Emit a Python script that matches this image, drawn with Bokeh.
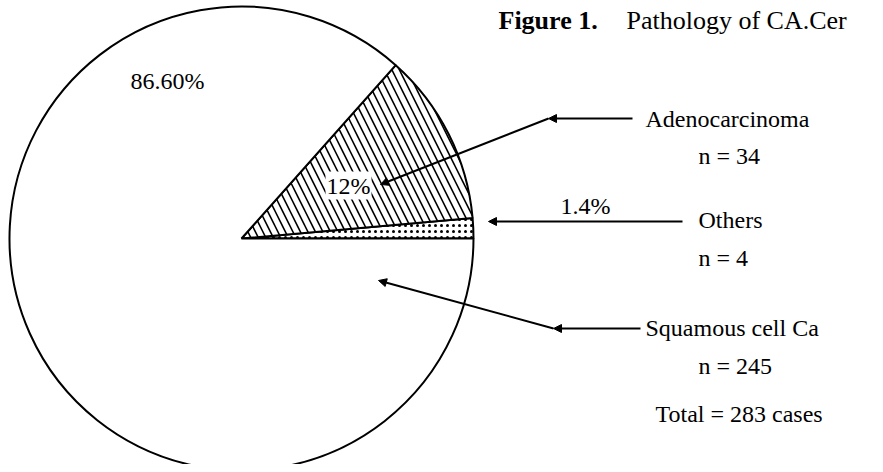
import math
from bokeh.plotting import figure
from bokeh.models import ColumnDataSource, Range1d, Arrow, NormalHead
from bokeh.core.properties import value
from bokeh.embed import file_html
from bokeh.resources import INLINE

# ---- data ----
categories = ["Others", "Adenocarcinoma", "Squamous cell Ca"]
counts = [4, 34, 245]
pct_labels = ["1.4%", "12%", "86.60%"]
total = sum(counts)
title_bold = "Figure 1."
title_rest = "Pathology of CA.Cer"

# ---- layout (reference pixel coords, y down) ----
W, H = 875, 464
def Y(y):
    return 464 - y

cx, cy, R = 241, 238, 232

p = figure(width=W, height=H, output_backend="svg", toolbar_location=None,
           x_range=Range1d(0, 875), y_range=Range1d(0, 464),
           min_border=0, outline_line_color=None)
p.axis.visible = False
p.xgrid.visible = False
p.ygrid.visible = False
p.background_fill_color = "white"
p.border_fill_color = "white"

# wedges from counts
angles = [c / total * 2 * math.pi for c in counts]
starts, ends = [], []
acc = 0.0
for a in angles:
    starts.append(acc)
    acc += a
    ends.append(acc)

styles = {
    "Others": dict(hatch_pattern=".", hatch_scale=6, hatch_weight=1.4),
    "Adenocarcinoma": dict(hatch_pattern="\\", hatch_scale=15, hatch_weight=1.6),
    "Squamous cell Ca": dict(),
}
for c, s, e in zip(categories, starts, ends):
    src = ColumnDataSource(dict(x=[cx], y=[Y(cy)], start=[s], end=[e], cat=[c]))
    p.wedge(x="x", y="y", radius=R, start_angle="start", end_angle="end", source=src,
            fill_color="white", line_color="black", line_width=2,
            hatch_color="black", **styles[c])

FONT = value("Liberation Serif")
FS = value("24px")

# percentage labels
pct_pos = {"1.4%": (585, 205), "12%": (348, 185), "86.60%": (167, 80)}
p.text(x=[pct_pos[l][0] for l in pct_labels], y=[Y(pct_pos[l][1]) for l in pct_labels],
       text=pct_labels, text_font=FONT, text_font_size=FS,
       text_align="center", text_baseline="middle", text_color="black",
       background_fill_color="white", padding=1)

# category labels
cat_pos = {"Adenocarcinoma": (645, 118), "Others": (698, 219), "Squamous cell Ca": (645, 327)}
n_pos = {"Adenocarcinoma": (698, 155), "Others": (698, 257), "Squamous cell Ca": (698, 365)}
tx, ty, tt = [], [], []
for c, n in zip(categories, counts):
    tx.append(cat_pos[c][0]); ty.append(Y(cat_pos[c][1])); tt.append(c)
    tx.append(n_pos[c][0]); ty.append(Y(n_pos[c][1])); tt.append(f"n = {n}")
tx.append(655); ty.append(Y(413)); tt.append(f"Total = {total} cases")
p.text(x=tx, y=ty, text=tt, text_font=FONT, text_font_size=FS,
       text_align="left", text_baseline="middle", text_color="black")

# title
TFS = value("26px")
p.text(x=[498], y=[Y(20)], text=[title_bold], text_font=FONT, text_font_size=TFS,
       text_font_style="bold", text_align="left", text_baseline="middle")
p.text(x=[626], y=[Y(20)], text=[title_rest], text_font=FONT, text_font_size=TFS,
       text_align="left", text_baseline="middle")

# leader arrows
segments = [
    ((632, 118), (548, 118)),
    ((548, 118), (380, 184)),
    ((682, 221), (488, 221)),
    ((640, 328), (553, 328)),
    ((553, 328), (378, 280)),
]
for (x0, y0), (x1, y1) in segments:
    p.add_layout(Arrow(end=NormalHead(size=8, fill_color="black", line_color="black"),
                       x_start=x0, y_start=Y(y0), x_end=x1, y_end=Y(y1),
                       line_color="black", line_width=2))

open("out.html", "w").write(file_html(p, INLINE))
